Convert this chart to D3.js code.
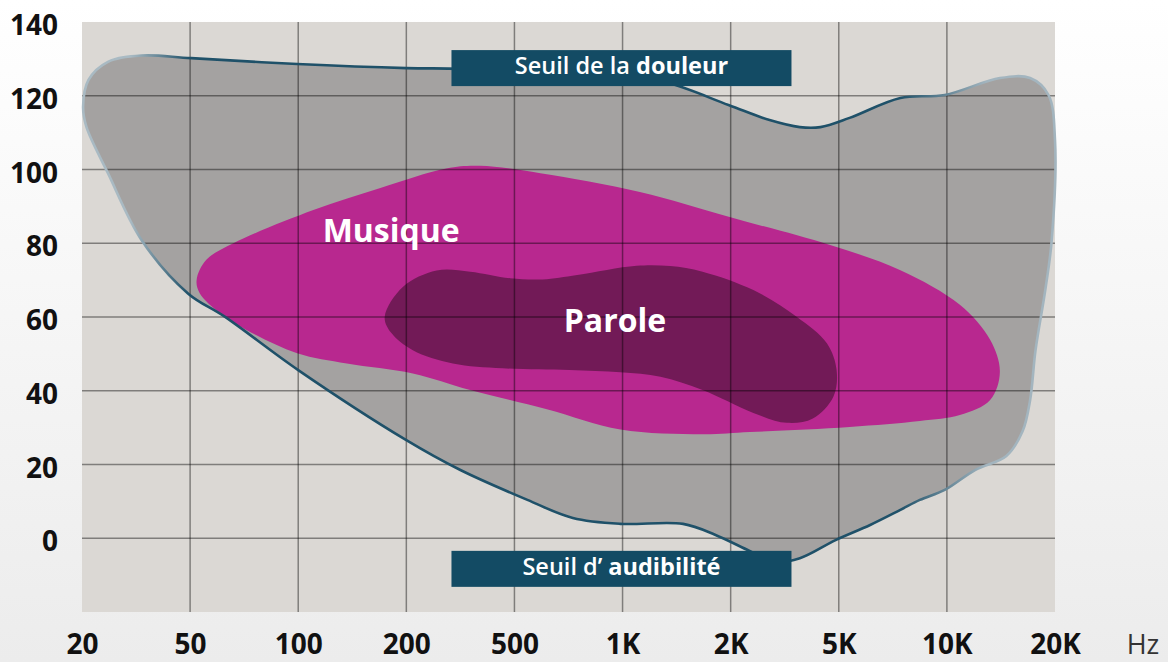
<!DOCTYPE html>
<html>
<head>
<meta charset="utf-8">
<script src="https://cdn.jsdelivr.net/npm/d3@7"></script>
<style>
  html, body { margin: 0; padding: 0; }
  body { width: 1168px; height: 662px; overflow: hidden; background: linear-gradient(#ffffff, #ececec); }
  svg { display: block; }
  .axis text { font-family: "Open Sans", sans-serif; font-weight: 700; font-size: 28px; fill: #111; }
</style>
</head>
<body>
<div id="chart"></div>
<script>
"use strict";

// Frequency categories (evenly spaced on the chart), dB ticks.
const freqLabels = ["20", "50", "100", "200", "500", "1K", "2K", "5K", "10K", "20K"];
const dbTicks = [0, 20, 40, 60, 80, 100, 120, 140];

// Zones, as [frequency position, dB] pairs.
const painThreshold = [
    [0.01, 117], [0.06, 124.3], [0.24, 129.2], [0.55, 130.9], [1.01, 130.2], [1.99, 128.6],
    [3.0, 127.5], [3.5, 127.3], [4.05, 126.4], [4.98, 124.8], [5.41, 123.5], [5.98, 117.5],
    [6.36, 113.4], [6.64, 111.5], [6.83, 111.5], [7.1, 114], [7.57, 119.4], [7.98, 120.2],
    [8.49, 124.8], [8.77, 124.8], [8.94, 120.2]
];
const highEdge = [
    [9.0, 108], [8.97, 80.9], [8.91, 67.3], [8.82, 51], [8.77, 37.5], [8.7, 29],
    [8.55, 22.3], [8.26, 18.5]
];
const hearingThreshold = [
    [0.04, 111.6], [0.24, 99], [0.55, 80.9], [0.98, 66.4], [1.32, 60.1], [2.0, 45.6],
    [3.0, 26.6], [3.5, 18.5], [4.12, 10.4], [4.54, 5.5], [4.98, 3.9], [5.56, 3.9],
    [5.86, 0.9], [6.18, -3.5], [6.41, -6.4], [6.64, -5.4], [6.97, -0.5], [7.29, 3.6],
    [7.57, 7.7], [7.75, 10.4], [7.98, 13.1]
];
const musique = [
    [1.06, 70], [1.15, 75.5], [1.4, 80], [2.14, 89], [2.76, 95], [3.37, 100.3],
    [3.68, 101], [4.24, 99], [5.16, 93.9], [5.99, 87.1], [6.92, 79.5], [7.57, 72.7],
    [8.12, 63.3], [8.4, 53.8], [8.49, 45.1], [8.4, 37.5], [8.12, 33.4], [7.75, 31.8],
    [7.1, 30.2], [6.18, 28.8], [5.74, 28.2], [4.98, 29.5], [4.3, 35], [3.59, 40.2],
    [3.06, 44.7], [2.45, 47.4], [1.99, 50.2], [1.52, 56.5], [1.28, 61], [1.09, 66.4]
];
const parole = [
    [2.8, 60.1], [2.97, 68.2], [3.28, 72.6], [3.59, 72.3], [3.96, 70.5], [4.26, 70.2],
    [4.58, 71.4], [5.13, 73.9], [5.44, 73.8], [5.74, 72.3], [6.21, 67.3], [6.61, 60.1],
    [6.89, 52.9], [6.98, 45.6], [6.95, 38.4], [6.76, 32.5], [6.52, 31.3], [6.21, 34],
    [5.74, 40.2], [5.35, 43.8], [4.98, 45], [4.51, 45.6], [3.89, 46.1], [3.43, 47.4],
    [3.06, 51], [2.86, 55.7]
];

// Labels.
const zoneLabels = [
    {text: "Musique", x: 2.86, y: 80.3},
    {text: "Parole", x: 4.93, y: 55.9}
];
const thresholdLabels = [
    {normal: "Seuil de la ", bold: "douleur", x: 4.99, y: 127.5},
    {normal: "Seuil d\u2019 ", bold: "audibilit\u00e9", x: 4.99, y: -8.3}
];

const width = 1168, height = 662;
const plotLeft = 82, plotRight = 1055, plotTop = 22, plotBottom = 612;

const svg = d3.select("#chart").append("svg")
    .attr("width", width)
    .attr("height", height);

const x = d3.scaleLinear().domain([0, freqLabels.length - 1]).range([plotLeft, plotRight]);
const y = d3.scaleLinear().domain([-20, 140]).range([plotBottom, plotTop]);

// Stroke gradient: light at the edges, dark in the middle.
const grad = svg.append("defs").append("linearGradient")
    .attr("id", "edgeStroke")
    .attr("gradientUnits", "userSpaceOnUse")
    .attr("x1", x(0)).attr("x2", x(9)).attr("y1", 0).attr("y2", 0);
[[0, "#a9bac3"], [0.05, "#a9bac3"], [0.11, "#1f5169"], [0.84, "#1f5169"], [0.93, "#a3b5bf"], [1, "#a3b5bf"]]
    .forEach(s => grad.append("stop").attr("offset", s[0]).attr("stop-color", s[1]));

// Plot background.
svg.append("rect")
    .attr("x", plotLeft).attr("y", plotTop)
    .attr("width", plotRight - plotLeft).attr("height", plotBottom - plotTop)
    .attr("fill", "#dbd8d4");

const zone = d3.line()
    .x(d => x(d[0]))
    .y(d => y(d[1]))
    .curve(d3.curveCatmullRomClosed.alpha(0.5));

const audible = painThreshold.concat(highEdge, hearingThreshold.slice().reverse());

svg.append("path")
    .attr("d", zone(audible))
    .attr("fill", "#a4a2a1");

svg.append("path")
    .attr("d", zone(musique))
    .attr("fill", "#b8288f");

svg.append("path")
    .attr("d", zone(parole))
    .attr("fill", "#721a57");

// Grid, drawn over the zones.
const grid = svg.append("g").attr("stroke", "#000").attr("stroke-opacity", 0.42).attr("stroke-width", 1.5);
grid.selectAll(".vline").data(d3.range(1, freqLabels.length - 1)).enter().append("line")
    .attr("x1", d => x(d)).attr("x2", d => x(d))
    .attr("y1", plotTop).attr("y2", plotBottom);
grid.selectAll(".hline").data(dbTicks.filter(d => d < 140)).enter().append("line")
    .attr("x1", plotLeft).attr("x2", plotRight)
    .attr("y1", d => y(d)).attr("y2", d => y(d));

// Outline of the audible area.
svg.append("path")
    .attr("d", zone(audible))
    .attr("fill", "none")
    .attr("stroke", "url(#edgeStroke)")
    .attr("stroke-width", 2.6);

// Zone names.
svg.selectAll(".zonelabel").data(zoneLabels).enter().append("text")
    .attr("x", d => x(d.x))
    .attr("y", d => y(d.y))
    .style("text-anchor", "middle")
    .style("font-family", "'Open Sans', sans-serif")
    .style("font-weight", 700)
    .style("font-size", "32px")
    .style("fill", "#ffffff")
    .text(d => d.text);

// Threshold boxes.
const boxW = 340, boxH = 36;
const boxes = svg.selectAll(".box").data(thresholdLabels).enter().append("g");
boxes.append("rect")
    .attr("x", d => x(d.x) - boxW / 2)
    .attr("y", d => y(d.y) - boxH / 2)
    .attr("width", boxW).attr("height", boxH)
    .attr("fill", "#134b64");
const bt = boxes.append("text")
    .attr("x", d => x(d.x))
    .attr("y", d => y(d.y) + 6)
    .style("text-anchor", "middle")
    .style("font-family", "'Open Sans', sans-serif")
    .style("font-size", "23.5px")
    .style("fill", "#ffffff");
bt.append("tspan").style("font-weight", 600).text(d => d.normal);
bt.append("tspan").style("font-weight", 700).text(d => d.bold);

// Axes.
svg.append("g")
    .attr("class", "axis")
    .attr("transform", "translate(" + plotLeft + ",0)")
    .call(d3.axisLeft(y).tickValues(dbTicks).tickSize(0).tickPadding(24))
    .call(g => g.select(".domain").remove())
    .selectAll("text").attr("dy", "0.45em");

svg.append("g")
    .attr("class", "axis")
    .attr("transform", "translate(0," + plotBottom + ")")
    .call(d3.axisBottom(x).tickValues(d3.range(freqLabels.length)).tickFormat(i => freqLabels[i]).tickSize(0).tickPadding(22))
    .call(g => g.select(".domain").remove());

svg.append("text")
    .attr("x", 1143)
    .attr("y", 654)
    .style("text-anchor", "middle")
    .style("font-family", "'Open Sans', sans-serif")
    .style("font-weight", 400)
    .style("font-size", "27px")
    .style("fill", "#333")
    .text("Hz");
</script>
</body>
</html>
